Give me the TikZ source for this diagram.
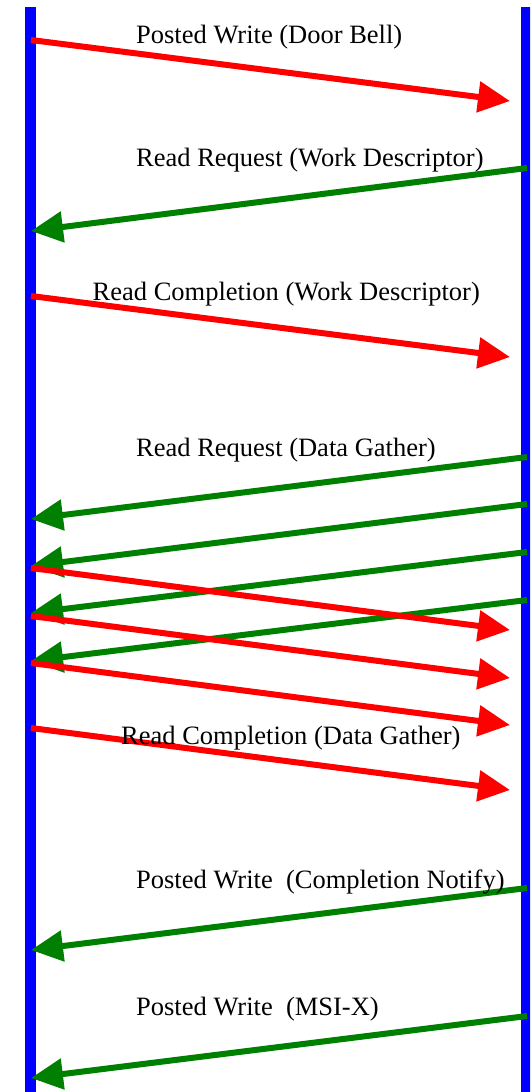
\documentclass[tikz,border=0pt]{standalone}
\usepackage{fontspec}
\setmainfont{Liberation Serif}
\usetikzlibrary{arrows.meta}
\definecolor{lane}{RGB}{0,0,255}
\definecolor{down}{RGB}{255,0,0}
\definecolor{up}{RGB}{0,128,0}
\tikzset{
  lifeline/.style={draw=lane, line width=11pt},
  msg/.style={line width=6pt, -{Triangle[length=32pt,width=30pt]}},
  tohost/.style={msg, draw=down},
  todev/.style={msg, draw=up},
  lbl/.style={anchor=base west, inner sep=0pt, font=\fontsize{26.5}{31}\selectfont}
}
\begin{document}
\begin{tikzpicture}[x=1pt, y=-1pt]
  \useasboundingbox (0,0) rectangle (530,1092);
  \clip (0,0) rectangle (530,1092);

  % the two lifelines
  \coordinate (Ltop) at (30.5,7);  \coordinate (Lbot) at (30.5,1100);
  \coordinate (Rtop) at (526.5,7); \coordinate (Rbot) at (526.5,1100);
  \draw[lifeline] (Ltop) -- (Lbot);
  \draw[lifeline] (Rtop) -- (Rbot);

  % message ends on the left lane
  \foreach \n/\y in {a/40, b/231, c/296, d/519, e/566, f/568, g/613, h/616,
                     i/661, j/663, k/728, l/950, m/1078}
    \coordinate (L\n) at (31,\y);
  % arrow tips just short of the right lane
  \foreach \n/\y in {a/101, c/357, f/630, h/678, j/725, k/790}
    \coordinate (R\n) at (510,\y);
  % message starts on the right lane
  \foreach \n/\y in {b/168, d/457, e/504, g/552, i/600, l/888, m/1016}
    \coordinate (R\n) at (527,\y);

  % messages
  \draw[tohost] (La) -- (Ra);
  \draw[todev]  (Rb) -- (Lb);
  \draw[tohost] (Lc) -- (Rc);
  \draw[todev]  (Rd) -- (Ld);
  \draw[todev]  (Re) -- (Le);
  \draw[todev]  (Rg) -- (Lg);
  \draw[todev]  (Ri) -- (Li);
  \draw[tohost] (Lf) -- (Rf);
  \draw[tohost] (Lh) -- (Rh);
  \draw[tohost] (Lj) -- (Rj);
  \draw[tohost] (Lk) -- (Rk);
  \draw[todev]  (Rl) -- (Ll);
  \draw[todev]  (Rm) -- (Lm);

  % labels
  \node[lbl] (t1) at (136,43.5) {Posted Write (Door Bell)};
  \node[lbl] (t2) at (136,166) {Read Request (Work Descriptor)};
  \node[lbl] (t3) at (92.5,300) {Read Completion (Work Descriptor)};
  \node[lbl] (t4) at (136,456) {Read Request (Data Gather)};
  \node[lbl] (t5) at (121,744) {Read Completion (Data Gather)};
  \node[lbl] (t6) at (136,888) {Posted Write\ \ (Completion Notify)};
  \node[lbl] (t7) at (136,1015) {Posted Write\ \ (MSI-X)};
\end{tikzpicture}
\end{document}
